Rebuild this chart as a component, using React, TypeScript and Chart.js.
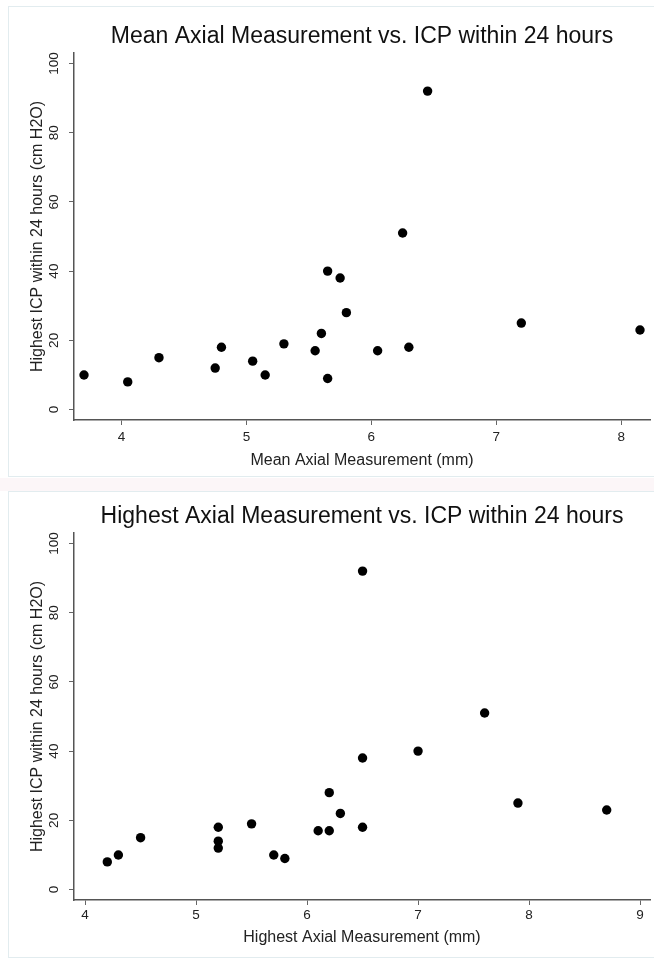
import React, { useEffect, useRef } from "react";
import { Chart, registerables } from "chart.js";

Chart.register(...registerables);

// Top panel: mean axial measurement (mm) vs highest ICP within 24 hours (cm H2O)
const meanAxial = [3.7, 4.05, 4.3, 4.75, 4.8, 5.05, 5.15, 5.3, 5.55, 5.6, 5.65, 5.65, 5.75, 5.8, 6.05, 6.25, 6.3, 6.45, 7.2, 8.15];
const icpVsMean = [10, 8, 15, 12, 18, 14, 10, 19, 17, 22, 40, 9, 38, 28, 17, 51, 18, 92, 25, 23];

// Bottom panel: highest axial measurement (mm) vs highest ICP within 24 hours (cm H2O)
const highestAxial = [4.2, 4.3, 4.5, 5.2, 5.2, 5.2, 5.5, 5.7, 5.8, 6.1, 6.2, 6.2, 6.3, 6.5, 6.5, 6.5, 7.0, 7.6, 7.9, 8.7];
const icpVsHighest = [8, 10, 15, 18, 14, 12, 19, 10, 9, 17, 17, 28, 22, 92, 38, 18, 40, 51, 25, 23];

const topTitle = "Mean Axial Measurement vs. ICP within 24 hours";
const bottomTitle = "Highest Axial Measurement vs. ICP within 24 hours";
const topXLabel = "Mean Axial Measurement (mm)";
const bottomXLabel = "Highest Axial Measurement (mm)";
const yLabel = "Highest ICP within 24 hours (cm H2O)";

const topXRange = [3.62, 8.23];
const bottomXRange = [3.9, 9.09];
const yRange = [-3, 103];

const FONT = "'Liberation Sans', Arial, Helvetica, sans-serif";

function makeConfig(title: string, xLabel: string, xs: number[], ys: number[], xRange: number[], canvasH: number, xLabelY: number, tickPad: number) {
  const points = xs.map((x, i) => ({ x, y: ys[i] }));
  return {
    type: "scatter" as const,
    data: {
      datasets: [
        {
          data: points,
          backgroundColor: "#000",
          borderColor: "#000",
          borderWidth: 0,
          pointRadius: 4.7,
          pointHoverRadius: 4.7,
        },
      ],
    },
    options: {
      responsive: false,
      animation: false,
      devicePixelRatio: 1,
      layout: { autoPadding: false, padding: { left: 0, right: 4, top: 0, bottom: 0 } },
      plugins: {
        legend: { display: false },
        tooltip: { enabled: false },
        title: {
          display: true,
          fullSize: false,
          text: title,
          color: "#111",
          font: { family: FONT, size: 23, weight: "normal", lineHeight: 1.2 },
          padding: { top: 23.2, bottom: 2.2 },
        },
      },
      scales: {
        x: {
          type: "linear",
          position: "bottom",
          min: xRange[0],
          max: xRange[1],
          afterFit: (s: any) => {
            s.height = canvasH - 420;
          },
          ticks: {
            stepSize: 1,
            includeBounds: false,
            color: "#222",
            padding: tickPad,
            font: { family: FONT, size: 13.5 },
            maxRotation: 0,
            minRotation: 0,
          },
          grid: { display: true, drawOnChartArea: false, drawTicks: true, tickLength: 5, color: "#666", lineWidth: 1 },
          border: { display: true, color: "#555", width: 1.5 },
          title: {
            display: true,
            text: xLabel,
            color: "#222",
            font: { family: FONT, size: 16, lineHeight: 1.2 },
            padding: { top: 0, bottom: canvasH - xLabelY - 9.6 },
          },
        },
        y: {
          type: "linear",
          position: "left",
          min: yRange[0],
          max: yRange[1],
          afterFit: (s: any) => {
            s.width = 74;
          },
          ticks: {
            stepSize: 20,
            includeBounds: false,
            color: "#222",
            padding: 3,
            minRotation: 90,
            maxRotation: 90,
            crossAlign: "center",
            font: { family: FONT, size: 13.5 },
          },
          grid: { display: true, drawOnChartArea: false, drawTicks: true, tickLength: 5, color: "#666", lineWidth: 1 },
          border: { display: true, color: "#555", width: 1.5 },
          title: {
            display: true,
            text: yLabel,
            color: "#222",
            font: { family: FONT, size: 16, lineHeight: 1.2 },
            padding: { top: 27.6, bottom: 0 },
          },
        },
      },
    },
  };
}

function ScatterPanel(props: { title: string; xLabel: string; xs: number[]; ys: number[]; xRange: number[]; top: number; height: number; xLabelY: number; tickPad: number }) {
  const ref = useRef<HTMLCanvasElement | null>(null);
  useEffect(() => {
    if (!ref.current) return;
    const chart = new Chart(
      ref.current,
      makeConfig(props.title, props.xLabel, props.xs, props.ys, props.xRange, props.height, props.xLabelY, props.tickPad) as any
    );
    return () => chart.destroy();
  }, []);
  return (
    <canvas
      ref={ref}
      width={654}
      height={props.height}
      style={{ position: "absolute", left: 0, top: props.top, width: 654, height: props.height, display: "block" }}
    />
  );
}

export default function App() {
  return (
    <div style={{ position: "absolute", left: 0, top: 0, width: 654, height: 961, background: "#fff", overflow: "hidden" }}>
      <div style={{ position: "absolute", left: 0, top: 478, width: 654, height: 13, background: "#fcf6f8" }} />
      <div
        style={{
          position: "absolute",
          left: 8,
          top: 6,
          width: 646,
          height: 471,
          borderTop: "1px solid #e2ecef",
          borderLeft: "1px solid #e2ecef",
          borderBottom: "1px solid #e2ecef",
          boxSizing: "border-box",
        }}
      />
      <div
        style={{
          position: "absolute",
          left: 8,
          top: 491,
          width: 646,
          height: 467,
          borderTop: "1px solid #e2ecef",
          borderLeft: "1px solid #e2ecef",
          borderBottom: "1px solid #e2ecef",
          boxSizing: "border-box",
          background: "#fff",
        }}
      />
      <ScatterPanel title={topTitle} xLabel={topXLabel} xs={meanAxial} ys={icpVsMean} xRange={topXRange} top={0} height={480} xLabelY={461} tickPad={4} />
      <ScatterPanel title={bottomTitle} xLabel={bottomXLabel} xs={highestAxial} ys={icpVsHighest} xRange={bottomXRange} top={480} height={481} xLabelY={458} tickPad={2} />
    </div>
  );
}
